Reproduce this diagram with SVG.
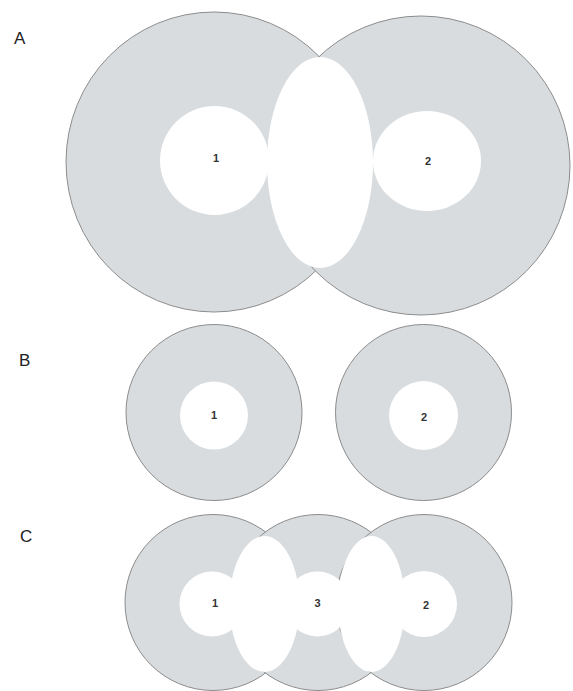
<svg xmlns="http://www.w3.org/2000/svg" width="573" height="691" viewBox="0 0 573 691">
<style>
.g{fill:#d9dcdf;stroke:#8c8c8c;stroke-width:1}
.w{fill:#ffffff;stroke:none}
.lbl{font-family:"Liberation Sans",Arial,sans-serif;font-size:17px;fill:#222}
.num{font-family:"Liberation Sans",Arial,sans-serif;font-size:11px;font-weight:bold;fill:#333;text-anchor:middle}
</style>
<rect width="573" height="691" fill="#ffffff"/>
<g id="panelA">
<text class="lbl" x="14" y="44">A</text>
<ellipse class="g" cx="214" cy="162" rx="148" ry="150"/>
<ellipse class="g" cx="421" cy="165.5" rx="149" ry="149.5"/>
<g id="A-node1"><circle class="w" cx="214.5" cy="160.5" r="54.5"/><text class="num" x="216" y="162">1</text></g>
<g id="A-node2"><ellipse class="w" cx="427" cy="161" rx="54" ry="50"/><text class="num" x="428" y="165">2</text></g>
<g id="A-overlap"><ellipse class="w" cx="320" cy="162.5" rx="53" ry="105.5"/></g>
</g>
<g id="panelB">
<text class="lbl" x="19" y="366">B</text>
<g id="B-node1"><circle class="g" cx="214" cy="412.5" r="88"/><circle class="w" cx="214" cy="415.5" r="34"/><text class="num" x="214" y="419">1</text></g>
<g id="B-node2"><circle class="g" cx="423.5" cy="412.5" r="88"/><circle class="w" cx="423.5" cy="415.5" r="34.5"/><text class="num" x="424" y="421">2</text></g>
</g>
<g id="panelC">
<text class="lbl" x="20" y="542">C</text>
<circle class="g" cx="213" cy="602.5" r="88"/>
<circle class="g" cx="318" cy="602.5" r="88"/>
<circle class="g" cx="424" cy="602.5" r="88"/>
<g id="C-node1"><circle class="w" cx="212" cy="604" r="32.5"/><text class="num" x="215" y="607">1</text></g>
<g id="C-node3"><circle class="w" cx="317.5" cy="604" r="32.5"/><text class="num" x="317.5" y="607">3</text></g>
<g id="C-node2"><circle class="w" cx="424" cy="604" r="33"/><text class="num" x="426" y="609">2</text></g>
<g id="C-overlap1"><ellipse class="w" cx="264.5" cy="604" rx="35" ry="68"/></g>
<g id="C-overlap2"><ellipse class="w" cx="371.5" cy="604" rx="33.5" ry="68"/></g>
</g>
</svg>
